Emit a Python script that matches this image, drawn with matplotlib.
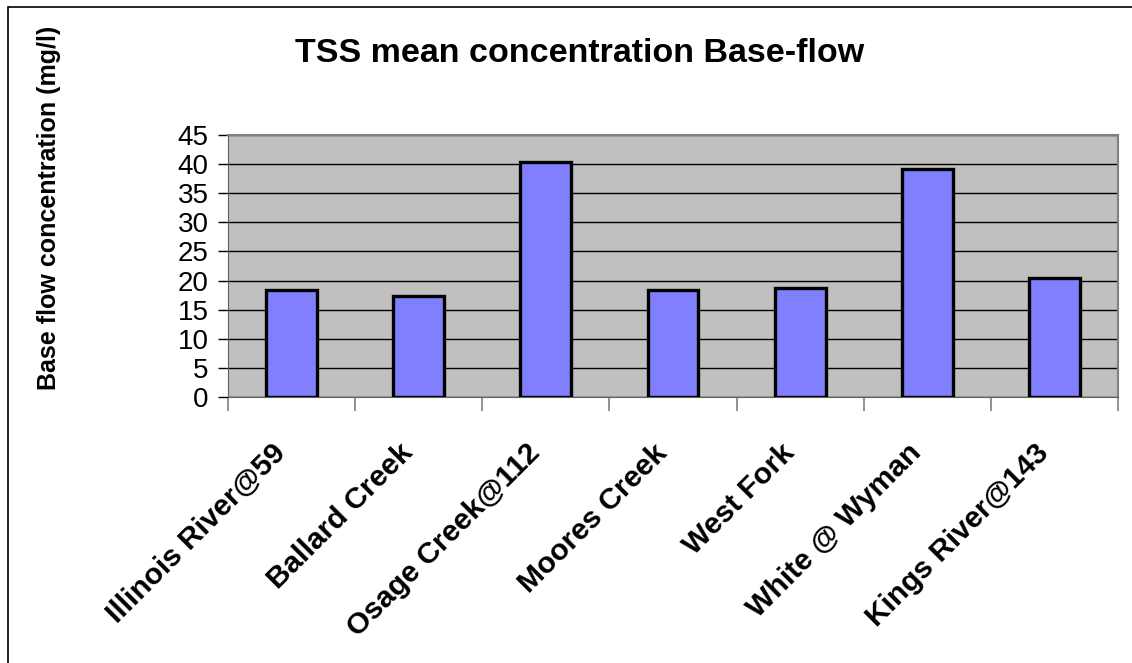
import numpy as np
import matplotlib
matplotlib.use('Agg')
import matplotlib.pyplot as plt
import matplotlib.transforms as mtransforms
from matplotlib.patches import Rectangle

# data
sites = ['Illinois River@59', 'Ballard Creek', 'Osage Creek@112', 'Moores Creek',
         'West Fork', 'White @ Wyman', 'Kings River@143']
tss_mean = [18.3, 17.3, 40.3, 18.3, 18.7, 39.2, 20.4]
yticks = list(range(0, 50, 5))

plt.rcParams['font.family'] = ['Liberation Sans', 'DejaVu Sans']

fig = plt.figure(figsize=(11.32, 6.63), dpi=100)
ax = fig.add_axes([228/1132, 1-397/663, (1118-228)/1132, (397-135)/663])

x = np.arange(len(sites))
ax.set_facecolor('#C0C0C0')
ax.set_axisbelow(True)
ax.yaxis.grid(True, color='black', lw=1.0)
ax.bar(x, tss_mean, width=0.4, color='#8080FF', edgecolor='black', lw=2.4, zorder=3)

ax.set_xlim(-0.5, len(sites) - 0.5)
ax.set_ylim(0, 45)
ax.set_yticks(yticks)
ax.set_yticklabels([str(t) for t in yticks], fontsize=20)
ax.tick_params(axis='y', length=7, width=1, color='black', pad=7)

# category labels
ax.set_xticks(x)
ax.set_xticklabels(sites, rotation=45, ha='right', va='top', rotation_mode='anchor',
                   fontsize=21.5, fontweight='bold')
ax.tick_params(axis='x', which='major', length=0, pad=30)
shift = mtransforms.ScaledTranslation(-20/100, 0, fig.dpi_scale_trans)
for lab in ax.get_xticklabels():
    lab.set_transform(lab.get_transform() + shift)
ax.set_xticks(np.arange(len(sites) + 1) - 0.5, minor=True)
ax.tick_params(axis='x', which='minor', length=10, width=1.2, color='#808080')

for s in ['top', 'right']:
    ax.spines[s].set_color('#808080')
    ax.spines[s].set_linewidth(1.5)
ax.spines['left'].set_color('#606060')
ax.spines['bottom'].set_color('#606060')

ax.set_ylabel('Base flow concentration (mg/l)', fontsize=18, fontweight='bold')
ax.yaxis.set_label_coords(-167/890, 0.72)

fig.text(580/1132, 1-53/663, 'TSS mean concentration Base-flow', ha='center', va='center',
         fontsize=24.5, fontweight='bold')

# chart frame
fig.patches.append(Rectangle((8/1132, -0.05), 1.2, 1-7/663+0.05, transform=fig.transFigure,
                             fill=False, edgecolor='black', lw=1.2))

fig.savefig('out.png', dpi=100)
